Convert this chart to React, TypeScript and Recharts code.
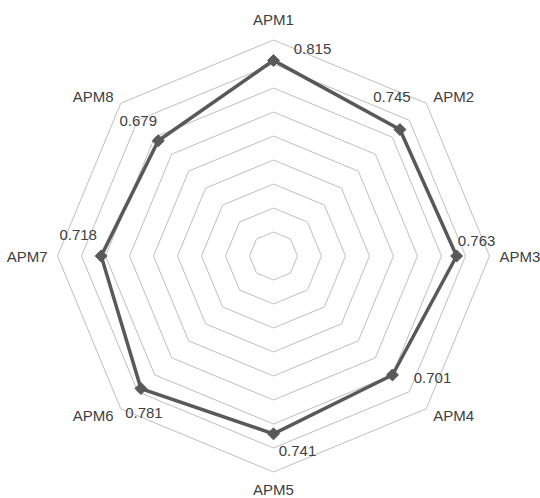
import React from 'react';
import { RadarChart, Radar, PolarGrid, PolarAngleAxis, PolarRadiusAxis, LabelList } from 'recharts';

const CATEGORIES = ['APM1', 'APM2', 'APM3', 'APM4', 'APM5', 'APM6', 'APM7', 'APM8'];
const VALUES = [0.815, 0.745, 0.763, 0.701, 0.741, 0.781, 0.718, 0.679];
const RADIUS_TICKS = [0, 0.1, 0.2, 0.3, 0.4, 0.5, 0.6, 0.7, 0.8, 0.9];
const RADIUS_DOMAIN = [0, 1];

const data = CATEGORIES.map((name, i) => ({ name, value: VALUES[i] }));

const W = 540;
const H = 498;
const CX = 273.5;
const CY = 256;
const GRID_R = 216; // radius of the 0.9 ring
const OUTER_R = GRID_R / 0.9; // radius of the axis domain max (1.0)
const FONT = '"Liberation Sans", Arial, sans-serif';
const TEXT = '#404040';
const LINE = '#595959';

// label placement offsets (style only, relative to each point)
const LABEL_OFFSETS: [number, number][] = [
  [39, -12],
  [-8, -33],
  [20, -16],
  [40, 3],
  [24, 17],
  [3, 24],
  [-23, -22],
  [-20, -20],
];

const AngleTick = (props: any) => {
  const { x, y, payload } = props;
  const dx = x - CX;
  const dy = y - CY;
  const d = Math.sqrt(dx * dx + dy * dy) || 1;
  const ux = dx / d;
  const uy = dy / d;
  const gap = uy < -0.9 ? 21 : uy > 0.9 ? 17 : 10;
  const lx = CX + ux * (GRID_R + gap);
  const ly = CY + uy * (GRID_R + gap);
  const anchor = ux > 0.3 ? 'start' : ux < -0.3 ? 'end' : 'middle';
  return (
    <text x={lx} y={ly} textAnchor={anchor} dominantBaseline="central" fill={TEXT} fontSize={15} fontFamily={FONT}>
      {payload.value}
    </text>
  );
};

const Diamond = (props: any) => {
  const { cx, cy } = props;
  if (cx == null || cy == null) return null;
  const s = 6;
  return <path d={`M${cx},${cy - s}L${cx + s},${cy}L${cx},${cy + s}L${cx - s},${cy}Z`} fill={LINE} stroke={LINE} />;
};

const ValueLabel = (props: any) => {
  const { x, y, value, index } = props;
  if (x == null || y == null) return null;
  const off = LABEL_OFFSETS[index] || [0, 0];
  return (
    <text x={x + off[0]} y={y + off[1]} textAnchor="middle" dominantBaseline="central" fill={TEXT} fontSize={15} fontFamily={FONT}>
      {Number(value).toFixed(3)}
    </text>
  );
};

export default function App() {
  return (
    <div style={{ position: 'absolute', left: 0, top: 0, width: W, height: H, background: '#fff' }}>
      <RadarChart width={W} height={H} data={data} cx={CX} cy={CY} outerRadius={OUTER_R} startAngle={90} endAngle={-270} margin={{ top: 0, right: 0, bottom: 0, left: 0 }}>
        <PolarGrid gridType="polygon" radialLines={false} stroke="#bfbfbf" strokeWidth={1} />
        <PolarAngleAxis dataKey="name" tick={<AngleTick />} tickLine={false} axisLine={false} />
        <PolarRadiusAxis type="number" domain={RADIUS_DOMAIN as any} ticks={RADIUS_TICKS as any} tick={false} axisLine={false} angle={90} />
        <Radar dataKey="value" stroke={LINE} strokeWidth={3.5} fill="none" fillOpacity={0} dot={<Diamond />} isAnimationActive={false}>
          <LabelList dataKey="value" content={<ValueLabel />} />
        </Radar>
      </RadarChart>
    </div>
  );
}
